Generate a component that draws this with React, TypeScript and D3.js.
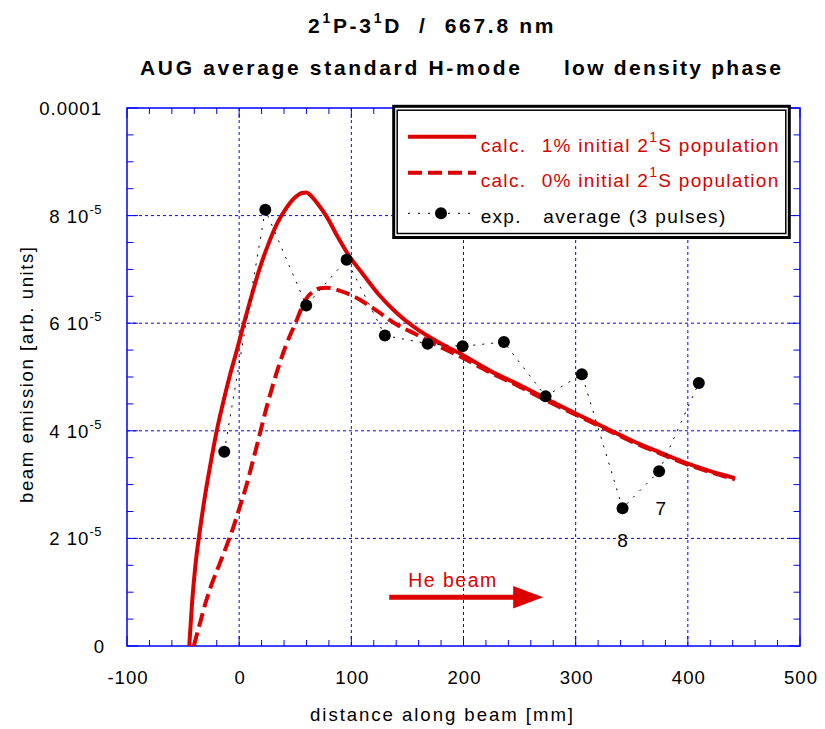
import React from "react";
import * as d3 from "d3";

// ---------- data ----------
const xTicks = [-100, 0, 100, 200, 300, 400, 500];
const yTickValues = [0, 2e-5, 4e-5, 6e-5, 8e-5, 1e-4];
const yTickMain = ["0", "2 10", "4 10", "6 10", "8 10", "0.0001"];
const yTickSup = ["", "-5", "-5", "-5", "-5", ""];

// calc. 1% initial 2¹S population (y in units of 1e-5)
const calc1X = [-44.5, -42, -39, -35, -30, -25, -20, -14, -8, -2, 4, 10, 18, 26, 34, 42, 50, 56, 60, 64, 70, 78, 88, 98, 110, 125, 140, 160, 180, 200, 225, 250, 275, 300, 325, 350, 375, 400, 420, 442];
const calc1Y = [0, 0.8, 1.5, 2.15, 2.85, 3.45, 4.0, 4.55, 5.05, 5.5, 5.98, 6.43, 7.0, 7.47, 7.86, 8.14, 8.34, 8.42, 8.43, 8.37, 8.22, 7.98, 7.6, 7.25, 6.92, 6.52, 6.2, 5.87, 5.62, 5.4, 5.1, 4.85, 4.58, 4.32, 4.07, 3.82, 3.6, 3.39, 3.25, 3.12];

// calc. 0% initial 2¹S population
const calc0X = [-40.5, -35, -30, -25, -17, -10, -5, 0, 6.7, 12, 15.6, 24.5, 33.4, 42.3, 51, 56, 60, 66, 72, 78, 90, 102, 120, 140, 158, 179, 197, 225, 250, 275, 300, 325, 350, 375, 400, 420, 442];
const calc0Y = [0, 0.42, 0.8, 1.12, 1.55, 1.93, 2.22, 2.55, 3.0, 3.42, 3.71, 4.44, 5.08, 5.62, 6.04, 6.3, 6.46, 6.59, 6.65, 6.66, 6.6, 6.5, 6.27, 5.98, 5.79, 5.56, 5.38, 5.07, 4.82, 4.55, 4.3, 4.05, 3.8, 3.58, 3.37, 3.23, 3.1];

// exp. average (3 pulses)
const expX = [-13.3, 23.3, 59.8, 95.8, 129.9, 168.0, 199.2, 236.0, 273.2, 305.5, 341.8, 374.4, 409.8];
const expY = [3.61, 8.11, 6.33, 7.18, 5.77, 5.62, 5.57, 5.65, 4.64, 5.05, 2.56, 3.25, 4.89];

// point annotations (data coords, y in 1e-5)
const noteText = ["8", "7"];
const noteX = [341.8, 375.9];
const noteY = [1.846, 2.435];

// He beam arrow (data coords)
const arrowX = [133.8, 244.3, 271];
const arrowY = 0.905;
const beamLabelX = 150.7;
const beamLabelY = 1.09;

const RED = "#dd0000";
const BLUE = "#0000ff";
const FONT = "'Liberation Sans', Arial, Helvetica, sans-serif";

export default function App() {
  const W = 825, H = 729;
  const L = 127, R = 800, T = 108, B = 646;
  const x = d3.scaleLinear().domain([-100, 500]).range([L, R]);
  const y = d3.scaleLinear().domain([0, 1e-4]).range([B, T]);

  const line = d3
    .line<[number, number]>()
    .x((d) => x(d[0]))
    .y((d) => y(d[1] * 1e-5))
    .curve(d3.curveMonotoneX);

  const c1 = line(calc1X.map((v, i) => [v, calc1Y[i]]) as [number, number][]) || "";
  const c0 = line(calc0X.map((v, i) => [v, calc0Y[i]]) as [number, number][]) || "";
  const expLine =
    d3
      .line<[number, number]>()
      .x((d) => x(d[0]))
      .y((d) => y(d[1] * 1e-5))(expX.map((v, i) => [v, expY[i]]) as [number, number][]) || "";

  const xMinor = d3.range(-100, 501, 20);
  const yMinor = d3.range(0, 1e-4 + 1e-9, 0.5e-5);

  const ay = y(arrowY * 1e-5);

  return (
    <svg width={W} height={H} style={{ display: "block", position: "absolute", left: 0, top: 0, background: "#fff" }} fontFamily={FONT}>
      <rect x={0} y={0} width={W} height={H} fill="#fff" />
      {/* titles */}
      <text x={308} y={33} fontSize={21} fontWeight="bold" letterSpacing={2.7} style={{ whiteSpace: "pre" }}>
        <tspan>2</tspan>
        <tspan dy={-10} fontSize={14}>1</tspan>
        <tspan dy={10}>P-3</tspan>
        <tspan dy={-10} fontSize={14}>1</tspan>
        <tspan dy={10}>{"D  /  667.8 nm"}</tspan>
      </text>
      <text x={140} y={75} fontSize={21} fontWeight="bold" textLength={380} lengthAdjust="spacing">
        AUG average standard H-mode
      </text>
      <text x={564} y={75} fontSize={21} fontWeight="bold" textLength={217} lengthAdjust="spacing">
        low density phase
      </text>

      {/* grid */}
      {xTicks.filter((t) => t > -100 && t < 500).map((t) => (
        <line key={"gx" + t} x1={x(t)} x2={x(t)} y1={T} y2={B} stroke={BLUE} strokeWidth={1} strokeDasharray="3,3" />
      ))}
      {yTickValues.filter((t) => t > 0 && t < 1e-4).map((t) => (
        <line key={"gy" + t} x1={L} x2={R} y1={y(t)} y2={y(t)} stroke={BLUE} strokeWidth={1} strokeDasharray="3,3" />
      ))}

      {/* ticks */}
      {xMinor.map((t) => {
        const major = Math.abs(t % 100) < 1e-9;
        const len = major ? 10 : 6;
        return (
          <g key={"tx" + t}>
            <line x1={x(t)} x2={x(t)} y1={B} y2={B - len} stroke={BLUE} strokeWidth={1} />
            <line x1={x(t)} x2={x(t)} y1={T} y2={T + len} stroke={BLUE} strokeWidth={1} />
          </g>
        );
      })}
      {yMinor.map((t, i) => {
        const major = i % 4 === 0;
        const len = major ? 11 : 6.5;
        return (
          <g key={"ty" + i}>
            <line x1={L} x2={L + len} y1={y(t)} y2={y(t)} stroke={BLUE} strokeWidth={1} />
            <line x1={R} x2={R - len} y1={y(t)} y2={y(t)} stroke={BLUE} strokeWidth={1} />
          </g>
        );
      })}
      <rect x={L} y={T} width={R - L} height={B - T} fill="none" stroke={BLUE} strokeWidth={1.5} />

      {/* tick labels */}
      {xTicks.map((t) => (
        <text key={"lx" + t} x={x(t) + 1} y={684} fontSize={18.6} letterSpacing={1} textAnchor="middle">
          {t}
        </text>
      ))}
      {yTickValues.map((t, i) => (
        <text key={"ly" + i} x={i === 0 ? 105 : 102} y={y(t) + 7} fontSize={18.6} letterSpacing={1} textAnchor="end">
          <tspan>{yTickMain[i]}</tspan>
          {yTickSup[i] ? (
            <tspan dy={-9} fontSize={13} letterSpacing={0.5}>
              {yTickSup[i]}
            </tspan>
          ) : null}
        </text>
      ))}

      {/* axis titles */}
      <text x={310} y={721} fontSize={18.6} textLength={263} lengthAdjust="spacing">
        distance along beam [mm]
      </text>
      <text transform="translate(33,503) rotate(-90)" fontSize={18.6} textLength={256} lengthAdjust="spacing">
        beam emission [arb. units]
      </text>

      {/* curves */}
      <path d={c0} fill="none" stroke={RED} strokeWidth={4} strokeDasharray="14,6" />
      <path d={c1} fill="none" stroke={RED} strokeWidth={4} />
      <path d={expLine} fill="none" stroke="#000" strokeWidth={1} strokeDasharray="2,7" />
      {expX.map((v, i) => (
        <circle key={"p" + i} cx={x(v)} cy={y(expY[i] * 1e-5)} r={6} fill="#000" />
      ))}
      {noteText.map((s, i) => (
        <text key={"n" + i} x={x(noteX[i])} y={y(noteY[i] * 1e-5)} fontSize={19} textAnchor="middle">
          {s}
        </text>
      ))}

      {/* He beam arrow */}
      <text x={x(beamLabelX)} y={y(beamLabelY * 1e-5)} fontSize={19.5} fill={RED} textLength={88} lengthAdjust="spacing">
        He beam
      </text>
      <line x1={x(arrowX[0])} x2={x(arrowX[1]) + 1} y1={ay} y2={ay} stroke={RED} strokeWidth={5} />
      <path
        d={`M${x(arrowX[1])},${ay - 11.3} L${x(arrowX[2])},${ay} L${x(arrowX[1])},${ay + 11.3} Z`}
        fill={RED}
      />

      {/* legend */}
      <rect x={393.7} y={106.3} width={789.3 - 393.7} height={237.5 - 106.3} fill="#fff" stroke="#000" strokeWidth={3} />
      <rect x={397.2} y={110.2} width={785.8 - 397.2} height={233.5 - 110.2} fill="none" stroke="#000" strokeWidth={1.5} />
      <line x1={408} x2={476} y1={136.7} y2={136.7} stroke={RED} strokeWidth={4} />
      <line x1={408} x2={476} y1={172.7} y2={172.7} stroke={RED} strokeWidth={4} strokeDasharray="14,6" />
      <line x1={408} x2={476} y1={213.3} y2={213.3} stroke="#000" strokeWidth={1} strokeDasharray="2,8" />
      <circle cx={441} cy={213.3} r={6} fill="#000" />
      {[152.3, 186.7].map((by, i) => (
        <g key={"lg" + i} fill={RED} fontSize={19}>
          <text x={480.7} y={by} letterSpacing={1.3}>calc.</text>
          <text x={541.7} y={by} letterSpacing={1.3} style={{ whiteSpace: "pre" }}>
            <tspan>{(i === 0 ? "1" : "0") + "% initial 2"}</tspan>
            <tspan dy={-10} fontSize={14}>1</tspan>
            <tspan dy={10}>S population</tspan>
          </text>
        </g>
      ))}
      <text x={480.7} y={223.3} fontSize={19} letterSpacing={1.3}>exp.</text>
      <text x={543.3} y={223.3} fontSize={19} textLength={182} lengthAdjust="spacing">average (3 pulses)</text>
    </svg>
  );
}
